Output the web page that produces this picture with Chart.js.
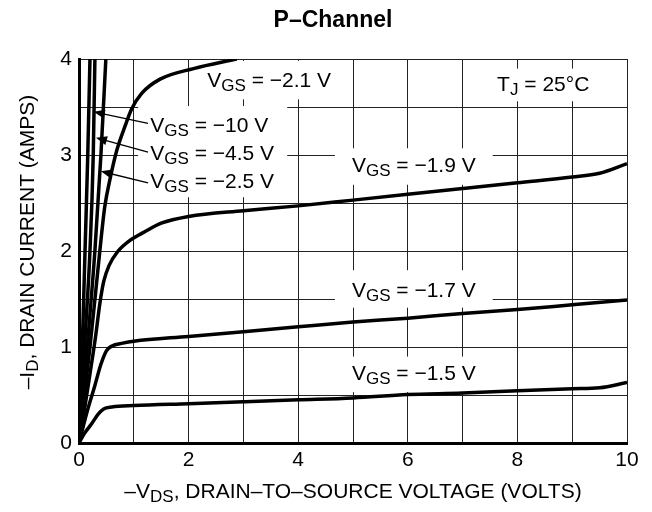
<!DOCTYPE html>
<html>
<head>
<meta charset="utf-8">
<script src="https://cdn.jsdelivr.net/npm/chart.js@4/dist/chart.umd.min.js"></script>
<style>
  body { margin: 0; background: #fff; }
  canvas { display: block; }
</style>
</head>
<body>
<canvas id="grafico" width="652" height="512"></canvas>
<script>
// curvas de salida, -VDS (V) vs -ID (A)
const vds10 = [0, 0.06, 0.11, 0.16, 0.2];
const id10  = [0, 1, 2, 3, 4];
const vds45 = [0, 0.1, 0.2, 0.26, 0.29];
const id45  = [0, 1, 2, 3, 4];
const vds25 = [0, 0.15, 0.29, 0.4, 0.49];
const id25  = [0, 1, 2, 3, 4];
const vds21 = [0, 0.1, 0.2, 0.3, 0.38, 0.47, 0.57, 0.69, 0.84, 0.96, 1.14, 1.48, 2.09, 2.88];
const id21  = [0, 0.5, 1.0, 1.55, 2.0, 2.46, 2.76, 3.05, 3.3, 3.48, 3.64, 3.79, 3.9, 4.0];
const vds19 = [0, 0.1, 0.2, 0.3, 0.38, 0.45, 0.55, 0.7, 0.93, 1.2, 1.5, 2, 3, 4, 5, 6, 7, 8, 9, 9.5, 10];
const id19  = [0, 0.35, 0.72, 1.1, 1.45, 1.68, 1.85, 1.99, 2.11, 2.2, 2.29, 2.36, 2.42, 2.47, 2.53, 2.59, 2.65, 2.71, 2.77, 2.81, 2.91];
const vds17 = [0, 0.15, 0.29, 0.4, 0.5, 0.6, 0.8, 1, 2, 3, 4, 5, 6, 7, 8, 9, 10];
const id17  = [0, 0.33, 0.6, 0.82, 0.96, 1.01, 1.04, 1.06, 1.11, 1.16, 1.21, 1.26, 1.3, 1.35, 1.39, 1.44, 1.49];
const vds15 = [0, 0.1, 0.23, 0.35, 0.45, 0.6, 1, 2, 3, 4, 5, 6, 7, 8, 9, 9.5, 10];
const id15  = [0, 0.1, 0.2, 0.3, 0.355, 0.375, 0.39, 0.41, 0.43, 0.45, 0.47, 0.505, 0.52, 0.545, 0.565, 0.575, 0.63];

const xTicks = [0, 2, 4, 6, 8, 10];
const yTicks = [0, 1, 2, 3, 4];
const curvas = ['-10', '-4.5', '-2.5', '-2.1', '-1.9', '-1.7', '-1.5'];

// etiquetas: [texto, subindice, resto]
const etiquetas = [
  ['V', 'GS', ' = \u22122.1 V'],
  ['V', 'GS', ' = \u221210 V'],
  ['V', 'GS', ' = \u22124.5 V'],
  ['V', 'GS', ' = \u22122.5 V'],
  ['V', 'GS', ' = \u22121.9 V'],
  ['T', 'J', ' = 25\u00B0C'],
  ['V', 'GS', ' = \u22121.7 V'],
  ['V', 'GS', ' = \u22121.5 V']
];
// posicion (x, y de linea base) en unidades de datos
const posEtiq = [[2.34, 3.71], [1.30, 3.24], [1.30, 2.95], [1.30, 2.66], [4.98, 2.82], [7.63, 3.67], [4.98, 1.52], [4.98, 0.66]];
// cajas blancas que tapan la grilla [x0, x1, y0, y1]
const cajas = [[2.15, 4.76, 3.58, 3.98], [1.08, 3.80, 2.56, 3.51], [4.67, 7.55, 2.69, 3.07], [7.41, 9.6, 3.56, 3.9], [4.67, 7.55, 1.41, 1.80], [4.67, 7.55, 0.53, 0.90]];
// flechas [x desde, y desde, x hasta, y hasta]
const flechas = [[1.26, 3.33, 0.27, 3.45], [1.26, 3.03, 0.31, 3.18], [1.26, 2.71, 0.40, 2.83]];

const FUENTE = '"Liberation Sans", Arial, Helvetica, sans-serif';

function puntos(xs, ys) {
  return xs.map((x, i) => ({ x: x, y: ys[i] }));
}
const series = [[vds10, id10], [vds45, id45], [vds25, id25], [vds21, id21], [vds19, id19], [vds17, id17], [vds15, id15]];

function textoSub(ctx, x, y, partes, size) {
  ctx.font = size + 'px ' + FUENTE;
  ctx.fillText(partes[0], x, y);
  x += ctx.measureText(partes[0]).width;
  ctx.font = Math.round(size * 0.8) + 'px ' + FUENTE;
  ctx.fillText(partes[1], x, y + 4);
  x += ctx.measureText(partes[1]).width;
  ctx.font = size + 'px ' + FUENTE;
  ctx.fillText(partes[2], x, y);
  return x + ctx.measureText(partes[2]).width;
}
function anchoSub(ctx, partes, size) {
  ctx.font = size + 'px ' + FUENTE;
  let w = ctx.measureText(partes[0]).width + ctx.measureText(partes[2]).width;
  ctx.font = Math.round(size * 0.8) + 'px ' + FUENTE;
  return w + ctx.measureText(partes[1]).width;
}

const notas = {
  id: 'notas',
  beforeDatasetsDraw(chart) {
    const ctx = chart.ctx, sx = chart.scales.x, sy = chart.scales.y;
    ctx.save();
    ctx.fillStyle = '#fff';
    cajas.forEach(c => {
      const x0 = sx.getPixelForValue(c[0]), x1 = sx.getPixelForValue(c[1]);
      const y0 = sy.getPixelForValue(c[3]), y1 = sy.getPixelForValue(c[2]);
      ctx.fillRect(x0, y0, x1 - x0, y1 - y0);
    });
    ctx.restore();
  },
  afterDatasetsDraw(chart) {
    const ctx = chart.ctx, sx = chart.scales.x, sy = chart.scales.y;
    ctx.save();
    ctx.fillStyle = '#000';
    ctx.strokeStyle = '#000';
    ctx.textBaseline = 'alphabetic';
    ctx.textAlign = 'left';
    etiquetas.forEach((e, i) => {
      textoSub(ctx, sx.getPixelForValue(posEtiq[i][0]), sy.getPixelForValue(posEtiq[i][1]), e, 21);
    });
    // flechas
    ctx.lineWidth = 1.3;
    flechas.forEach(f => {
      const x0 = sx.getPixelForValue(f[0]), y0 = sy.getPixelForValue(f[1]);
      const x1 = sx.getPixelForValue(f[2]), y1 = sy.getPixelForValue(f[3]);
      const a = Math.atan2(y1 - y0, x1 - x0);
      ctx.beginPath();
      ctx.moveTo(x0, y0);
      ctx.lineTo(x1 - 6 * Math.cos(a), y1 - 6 * Math.sin(a));
      ctx.stroke();
      ctx.beginPath();
      ctx.moveTo(x1, y1);
      ctx.lineTo(x1 - 11 * Math.cos(a) + 4.5 * Math.sin(a), y1 - 11 * Math.sin(a) - 4.5 * Math.cos(a));
      ctx.lineTo(x1 - 11 * Math.cos(a) - 4.5 * Math.sin(a), y1 - 11 * Math.sin(a) + 4.5 * Math.cos(a));
      ctx.closePath();
      ctx.fill();
    });
    // titulo
    ctx.font = 'bold 23px ' + FUENTE;
    ctx.textAlign = 'center';
    ctx.fillText('P\u2013Channel', 333, 27);
    ctx.textAlign = 'left';
    // titulos de ejes
    const tx = ['\u2013V', 'DS', ', DRAIN\u2013TO\u2013SOURCE VOLTAGE (VOLTS)'];
    const wx = anchoSub(ctx, tx, 21);
    textoSub(ctx, (sx.left + sx.right) / 2 - wx / 2, 498, tx, 21);
    const ty = ['\u2013I', 'D', ', DRAIN CURRENT (AMPS)'];
    const wy = anchoSub(ctx, ty, 21);
    ctx.translate(34, 242);
    ctx.rotate(-Math.PI / 2);
    textoSub(ctx, -wy / 2, 0, ty, 21);
    ctx.restore();
  }
};

new Chart(document.getElementById('grafico'), {
  type: 'line',
  data: {
    datasets: series.map((s, i) => ({
      label: 'VGS = ' + curvas[i] + ' V',
      data: puntos(s[0], s[1]),
      borderColor: '#000',
      borderWidth: 3.5,
      pointRadius: 0,
      fill: false,
      cubicInterpolationMode: 'monotone'
    }))
  },
  options: {
    responsive: false,
    animation: false,
    layout: { padding: { left: 0, right: 25, top: 59, bottom: 0 } },
    plugins: {
      legend: { display: false },
      tooltip: { enabled: false },
      title: { display: false }
    },
    scales: {
      x: {
        type: 'linear',
        min: 0, max: 10,
        afterFit: s => { s.height = 69; },
        ticks: {
          stepSize: 1,
          padding: 5,
          color: '#000',
          font: { family: FUENTE, size: 21 },
          autoSkip: false,
          maxRotation: 0,
          callback: v => xTicks.includes(v) ? String(v) : ''
        },
        grid: { color: '#222', lineWidth: 1, drawTicks: false },
        border: { display: true, color: '#000', width: 3 }
      },
      y: {
        type: 'linear',
        min: 0, max: 4,
        afterFit: s => { s.width = 79; },
        ticks: {
          stepSize: 0.5,
          padding: 7,
          color: '#000',
          font: { family: FUENTE, size: 21 },
          autoSkip: false,
          callback: v => yTicks.includes(v) ? String(v) : ''
        },
        grid: { color: '#222', lineWidth: 1, drawTicks: false },
        border: { display: true, color: '#000', width: 3 }
      }
    }
  },
  plugins: [notas]
});
</script>
</body>
</html>
